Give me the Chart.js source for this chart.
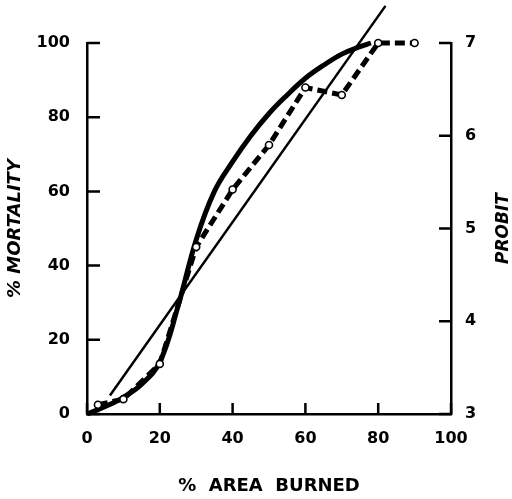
<!DOCTYPE html>
<html>
<head>
<meta charset="utf-8">
<script src="https://cdn.jsdelivr.net/npm/chart.js@4.4.1/dist/chart.umd.min.js"></script>
<style>
  html, body { margin: 0; padding: 0; background: #fff; }
  #grafico { display: block; }
</style>
</head>
<body>
<canvas id="grafico" width="512" height="499"></canvas>
<script>
// observed points (dashed line with circles)
const areaBurned = [3, 10, 20, 30, 40, 50, 60, 70, 80, 90];
const observedMortality = [2.5, 4, 13.5, 45, 60.5, 72.5, 88, 86, 100, 100];

// fitted mortality curve (thick line)
const fittedArea = [0, 5, 10, 15, 20, 25, 30, 35, 40, 45, 50, 55, 60, 65, 70, 75, 78];
const fittedMortality = [0, 2, 4.5, 8, 14, 29, 47, 60, 68, 75, 81, 86, 90.5, 94, 97, 99, 100];

// probit line (thin, right axis)
const probitArea = [6.3, 82];
const probitValues = [3.2, 7.4];

const xTicks = [0, 20, 40, 60, 80, 100];
const mortalityTicks = [0, 20, 40, 60, 80, 100];
const probitTicks = [3, 4, 5, 6, 7];

function pairs(xs, ys) {
    return xs.map((v, i) => ({ x: v, y: ys[i] }));
}

const tickFont = { family: 'DejaVu Sans', size: 16, weight: 'bold' };
const titleFont = { family: 'DejaVu Sans', size: 18, weight: 'bold' };

// ticks point inward, and the right title reads bottom to top
const axisMarks = {
    id: 'axisMarks',
    afterDraw(chart) {
        const ctx = chart.ctx;
        const { x, y, y1 } = chart.scales;
        ctx.save();
        ctx.strokeStyle = '#000';
        ctx.lineWidth = 2.5;
        ctx.beginPath();
        xTicks.forEach(v => {
            const px = x.getPixelForValue(v);
            ctx.moveTo(px, x.top);
            ctx.lineTo(px, x.top - 11);
        });
        mortalityTicks.forEach(v => {
            const py = y.getPixelForValue(v);
            ctx.moveTo(y.right, py);
            ctx.lineTo(y.right + 13, py);
        });
        probitTicks.forEach(v => {
            const py = y1.getPixelForValue(v);
            ctx.moveTo(y1.left, py);
            ctx.lineTo(y1.left - 12, py);
        });
        ctx.stroke();

        ctx.fillStyle = '#000';
        ctx.font = 'italic bold 17px "DejaVu Sans"';
        ctx.textAlign = 'center';
        ctx.textBaseline = 'middle';
        ctx.translate(504, (y1.top + y1.bottom) / 2);
        ctx.rotate(-Math.PI / 2);
        ctx.fillText('PROBIT', 0, 0);
        ctx.restore();
    }
};

const ctx = document.getElementById('grafico').getContext('2d');
new Chart(ctx, {
    type: 'line',
    data: {
        datasets: [
            {
                label: 'Observed',
                data: pairs(areaBurned, observedMortality),
                yAxisID: 'y',
                borderColor: '#000',
                borderWidth: 5,
                borderDash: [10, 5],
                pointRadius: 3.5,
                pointBorderWidth: 1.6,
                pointBorderColor: '#000',
                pointBackgroundColor: '#fff',
                tension: 0,
                clip: false,
                order: 1
            },
            {
                label: 'Fitted',
                data: pairs(fittedArea, fittedMortality),
                yAxisID: 'y',
                borderColor: '#000',
                borderWidth: 5,
                pointRadius: 0,
                tension: 0.4,
                clip: false,
                order: 3
            },
            {
                label: 'Probit',
                data: pairs(probitArea, probitValues),
                yAxisID: 'y1',
                borderColor: '#000',
                borderWidth: 2.5,
                pointRadius: 0,
                clip: false,
                order: 2
            }
        ]
    },
    options: {
        responsive: false,
        animation: false,
        layout: { padding: { top: 43, left: 0, right: 0, bottom: 0 } },
        plugins: {
            legend: { display: false },
            tooltip: { enabled: false }
        },
        scales: {
            x: {
                type: 'linear',
                min: 0,
                max: 100,
                afterFit(scale) { scale.height = 85; },
                afterBuildTicks(scale) { scale.ticks = xTicks.map(v => ({ value: v })); },
                grid: { display: false, drawTicks: false },
                border: { display: true, color: '#000', width: 2.5 },
                ticks: { color: '#000', font: tickFont, padding: 15, maxRotation: 0 },
                title: {
                    display: true,
                    text: '%  AREA  BURNED',
                    color: '#000',
                    font: titleFont,
                    padding: { top: 0, bottom: 2 }
                }
            },
            y: {
                type: 'linear',
                position: 'left',
                min: 0,
                max: 100,
                afterFit(scale) { scale.width = 87; },
                afterBuildTicks(scale) { scale.ticks = mortalityTicks.map(v => ({ value: v })); },
                grid: { display: false, drawTicks: false },
                border: { display: true, color: '#000', width: 2.5 },
                ticks: { color: '#000', font: tickFont, padding: 17 },
                title: {
                    display: true,
                    text: '% MORTALITY',
                    color: '#000',
                    font: { family: 'DejaVu Sans', size: 18, weight: 'bold', style: 'italic' },
                    padding: { top: 5, bottom: 0 }
                }
            },
            y1: {
                type: 'linear',
                position: 'right',
                min: 3,
                max: 7,
                afterFit(scale) { scale.width = 61; },
                afterBuildTicks(scale) { scale.ticks = probitTicks.map(v => ({ value: v })); },
                grid: { display: false, drawTicks: false },
                border: { display: true, color: '#000', width: 2.5 },
                ticks: { color: '#000', font: tickFont, padding: 14 }
            }
        }
    },
    plugins: [axisMarks]
});
</script>
</body>
</html>
